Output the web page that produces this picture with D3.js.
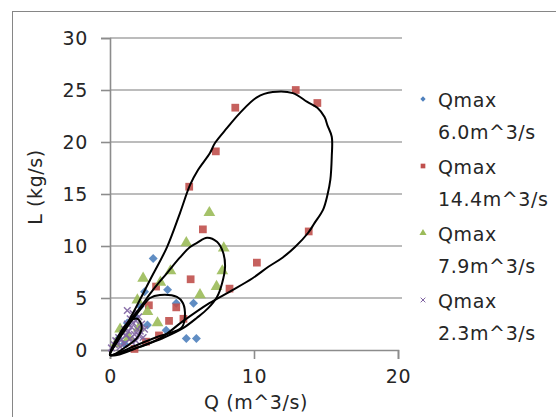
<!DOCTYPE html>
<html><head><meta charset="utf-8">
<script src="https://cdn.jsdelivr.net/npm/d3@7"></script>
<style>body{margin:0;background:#fff}svg{display:block}</style>
</head><body>
<script>
// ---- data ----
const xTicks = [0, 10, 20];
const yTicks = [0, 5, 10, 15, 20, 25, 30];
const seriesNames = ["Qmax 6.0m^3/s", "Qmax 14.4m^3/s", "Qmax 7.9m^3/s", "Qmax 2.3m^3/s"];
const seriesColors = ["#4F81BD", "#C0504D", "#9BBB59", "#8064A2"];
const seriesSymbols = ["diamond", "square", "triangle", "times"];

const q60 = [[3.0,8.8],[4.0,5.8],[2.4,5.6],[2.1,4.2],[4.6,4.5],[5.8,4.5],[5.3,1.1],[6.0,1.1],[3.9,1.9],[1.2,2.6],[1.0,0.6],[0.6,1.1],[1.8,3.2],[2.6,2.4]];
const q144 = [[1.7,0.1],[2.5,0.8],[3.4,1.4],[4.1,2.8],[5.1,3.0],[2.7,4.3],[4.6,4.1],[3.2,6.1],[5.6,6.8],[8.3,5.9],[10.2,8.4],[6.45,11.6],[13.8,11.4],[5.5,15.7],[7.35,19.1],[8.7,23.3],[12.9,25.0],[14.4,23.75]];
const q79 = [[6.9,13.2],[7.9,9.8],[5.3,10.3],[4.2,7.6],[2.3,6.9],[7.8,7.6],[7.4,6.1],[6.25,5.3],[3.5,6.5],[2.6,3.7],[3.3,2.6],[0.7,2.0],[1.3,1.2],[0.4,0.6],[1.9,4.8],[2.0,2.1]];
const q23 = [[0.1,0.2],[0.3,0.5],[0.5,0.8],[0.6,1.2],[0.8,1.0],[0.9,1.6],[1.0,2.0],[1.1,1.4],[1.2,2.5],[1.3,1.8],[1.4,3.0],[1.5,2.2],[1.6,3.5],[1.7,1.5],[1.8,2.8],[1.9,2.0],[2.0,3.2],[2.1,1.8],[2.2,2.5],[2.3,1.2],[1.5,0.8],[1.0,0.6],[0.7,0.3],[2.4,2.0],[1.2,3.8],[0.4,0.9],[1.6,2.6],[2.0,1.4],[1.4,1.1],[1.8,0.9]];

const loop144 = [[0,-0.48],[0.69,1.25],[1.6,3.56],[2.78,6.73],[3.96,9.9],[4.86,13.17],[5.56,15.87],[6.11,17.3],[6.94,18.94],[7.29,19.9],[8.13,21.35],[9.03,22.8],[10.2,24.3],[11.3,24.8],[12.7,24.7],[13.7,23.85],[14.4,23.3],[14.9,22.4],[15.1,21.6],[15.4,20.5],[15.4,18.6],[15.3,16.35],[15.1,14.9],[14.8,13.5],[14.2,12.2],[13.75,11.25],[12.85,9.9],[12.0,8.9],[11.0,8.0],[9.9,6.9],[8.3,5.6],[6.9,4.5],[5.0,2.7],[3.5,1.15],[1.4,0.0],[0.15,-0.48]];
const loop79 = [[0,-0.48],[0.9,1.9],[2.1,4.1],[3.0,5.8],[3.96,7.4],[4.86,8.9],[5.56,9.9],[6.04,10.3],[6.74,10.8],[7.43,10.4],[7.85,9.4],[7.99,8.0],[7.78,6.4],[7.43,5.1],[6.8,4.0],[6.04,3.1],[5.07,2.1],[3.68,1.15],[2.08,0.3],[0.49,-0.48]];
const loop60 = [[0,-0.48],[1.18,2.2],[2.08,3.85],[2.78,5.0],[3.47,5.3],[4.65,5.1],[5.07,4.5],[5.2,3.2],[5.0,2.2],[4.3,1.7],[3.26,1.25],[1.88,0.48],[0.2,-0.48]];
const loop23 = [[0,-0.48],[0.6,1.4],[1.3,2.7],[1.9,3.0],[2.2,2.3],[1.9,1.2],[1.1,0.3],[0.2,-0.48]];

const points = [q60, q144, q79, q23];
const loops = [loop144, loop79, loop60, loop23];

// ---- drawing ----
const W = 556, H = 417;
const svg = d3.select("body").append("svg").attr("width", W).attr("height", H);
const font = "'DejaVu Sans', Verdana, sans-serif";
const fs = 19, ls = "0.6px", txt = "#262626";

svg.append("rect").attr("x", 12.5).attr("y", 11.5).attr("width", 600).attr("height", 500)
  .attr("fill", "none").attr("stroke", "#868686").attr("stroke-width", 1);

const x = d3.scaleLinear().domain([0, 20]).range([110, 398]);
const y = d3.scaleLinear().domain([0, 30]).range([350, 38]);

// gridlines
svg.append("g").selectAll("line").data(yTicks.filter(d => d > 0)).join("line")
  .attr("x1", x(0)).attr("x2", x(20) + 4).attr("y1", d => y(d)).attr("y2", d => y(d))
  .attr("stroke", "#a6a6a6").attr("stroke-width", 1.6);

// axes
const xAxis = svg.append("g").attr("transform", `translate(0,${y(0)})`)
  .call(d3.axisBottom(x).tickValues(xTicks).tickSize(9).tickPadding(11).tickFormat(d3.format("d")));
const yAxis = svg.append("g").attr("transform", `translate(${x(0)},0)`)
  .call(d3.axisLeft(y).tickValues(yTicks).tickSize(9).tickPadding(13).tickFormat(d3.format("d")));
[xAxis, yAxis].forEach(a => {
  a.select(".domain").attr("stroke", "#8c8c8c").attr("stroke-width", 1.6);
  a.selectAll(".tick line").attr("stroke", "#8c8c8c").attr("stroke-width", 1.6);
  a.selectAll("text").attr("font-family", font).attr("font-size", fs).attr("letter-spacing", ls).attr("fill", txt);
});

// axis titles
svg.append("text").attr("x", 256).attr("y", 409).attr("text-anchor", "middle")
  .attr("font-family", font).attr("font-size", fs).attr("letter-spacing", ls).attr("fill", txt).text("Q (m^3/s)");
svg.append("text").attr("transform", "translate(42,187) rotate(-90)").attr("text-anchor", "middle")
  .attr("font-family", font).attr("font-size", fs).attr("letter-spacing", ls).attr("fill", txt).text("L (kg/s)");

// symbols
const symMap = {diamond: d3.symbolSquare, square: d3.symbolSquare, triangle: d3.symbolTriangle, times: d3.symbolTimes};
function symPath(name, size) { return d3.symbol().type(symMap[name]).size(size)(); }
const rot = name => name === "diamond" ? " rotate(45)" : "";

const plot = svg.append("g");
points.forEach((pts, i) => {
  const name = seriesSymbols[i];
  const isStroke = name === "times";
  const size = name === "diamond" ? 40 : name === "square" ? 60 : name === "triangle" ? 60 : 30;
  plot.append("g").selectAll("path").data(pts).join("path")
    .attr("transform", d => `translate(${x(d[0])},${y(d[1])})${rot(name)}`)
    .attr("d", symPath(name, size))
    .attr("fill", isStroke ? "none" : seriesColors[i])
    .attr("stroke", isStroke ? seriesColors[i] : "none")
    .attr("stroke-width", 1.5).attr("opacity", 0.9);
});

// loops
const line = d3.line().x(d => x(d[0])).y(d => y(d[1])).curve(d3.curveCatmullRomClosed.alpha(0.5));
plot.append("g").selectAll("path").data(loops).join("path")
  .attr("d", line).attr("fill", "none").attr("stroke", "#000").attr("stroke-width", 2);

// legend
const legend = svg.append("g");
seriesNames.forEach((nm, i) => {
  const base = 107 + i * 67;
  const parts = nm.split(" ");
  const name = seriesSymbols[i];
  const isStroke = name === "times";
  legend.append("path").attr("transform", `translate(423,${base - 8})${rot(name)}`)
    .attr("d", symPath(name, isStroke ? 16 : name === "diamond" ? 14 : 22))
    .attr("fill", isStroke ? "none" : seriesColors[i])
    .attr("stroke", isStroke ? seriesColors[i] : "none").attr("stroke-width", 1);
  legend.append("text").attr("x", 438).attr("y", base).attr("font-family", font).attr("font-size", fs)
    .attr("letter-spacing", ls).attr("fill", txt).text(parts[0]);
  legend.append("text").attr("x", 438).attr("y", base + 32).attr("font-family", font).attr("font-size", fs)
    .attr("letter-spacing", ls).attr("fill", txt).text(parts[1]);
});
</script>
</body></html>
